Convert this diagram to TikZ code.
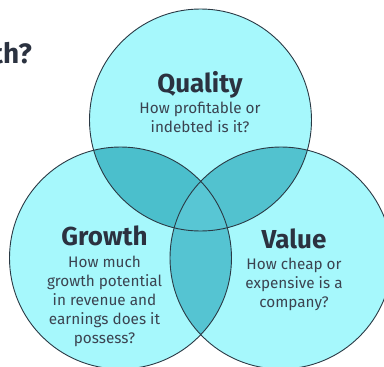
\documentclass[tikz,border=0pt]{standalone}
\usepackage{fontspec}
\setmainfont{Fira Sans}
\definecolor{ink}{HTML}{2B3240}
\definecolor{blurbink}{HTML}{3B4350}
\definecolor{rim}{HTML}{2A3944}
\definecolor{pale}{HTML}{A6F8FC}
\definecolor{lensqg}{HTML}{4BBFCC}
\definecolor{lensqv}{HTML}{52C2CF}
\definecolor{lensgv}{HTML}{55C4D2}
\definecolor{core}{HTML}{58C6D4}

\begin{document}
\begin{tikzpicture}[x=1pt, y=-1pt,
  heading/.style={font=\fontsize{26}{28}\selectfont\bfseries, text=ink, inner sep=0pt, anchor=base},
  blurb/.style={font=\fontsize{15.3}{19}\selectfont, text=blurbink, align=center, inner sep=0pt, anchor=base},
  rimline/.style={draw=rim, line width=0.9pt}]
  \useasboundingbox (0,0) rectangle (384,367);

  \coordinate (q) at (200.5,120);
  \coordinate (g) at (120.5,258);
  \coordinate (v) at (281,258);

  % the three sets
  \fill[pale] (q) circle [radius=111pt];
  \fill[pale] (g) circle [radius=111pt];
  \fill[pale] (v) circle [radius=111pt];

  % pairwise overlaps
  \begin{scope}
    \clip (q) circle [radius=111pt];
    \fill[lensqg] (g) circle [radius=111pt];
    \fill[lensqv] (v) circle [radius=111pt];
  \end{scope}
  \begin{scope}
    \clip (g) circle [radius=111pt];
    \fill[lensgv] (v) circle [radius=111pt];
    \clip (v) circle [radius=111pt];
    \fill[core] (q) circle [radius=111pt];
  \end{scope}

  \draw[rimline] (q) circle [radius=111pt];
  \draw[rimline] (g) circle [radius=111pt];
  \draw[rimline] (v) circle [radius=111pt];

  % labels (base = last line of a block)
  \node[heading, font=\fontsize{28}{30}\selectfont\bfseries, anchor=base east] (ask) at (32,63) {th?};

  \node[heading] (quality) at (200,92) {Quality};
  \node[blurb] (qualitytxt) at (200,132) {How profitable or\\indebted is it?};

  \node[heading] (growth) at (104.5,245) {Growth};
  \node[blurb] (growthtxt) at (104.5,343) {How much\\growth potential\\in revenue and\\earnings does it\\possess?};

  \node[heading] (value) at (294,248) {Value};
  \node[blurb] (valuetxt) at (294,307) {How cheap or\\expensive is a\\company?};
\end{tikzpicture}
\end{document}
